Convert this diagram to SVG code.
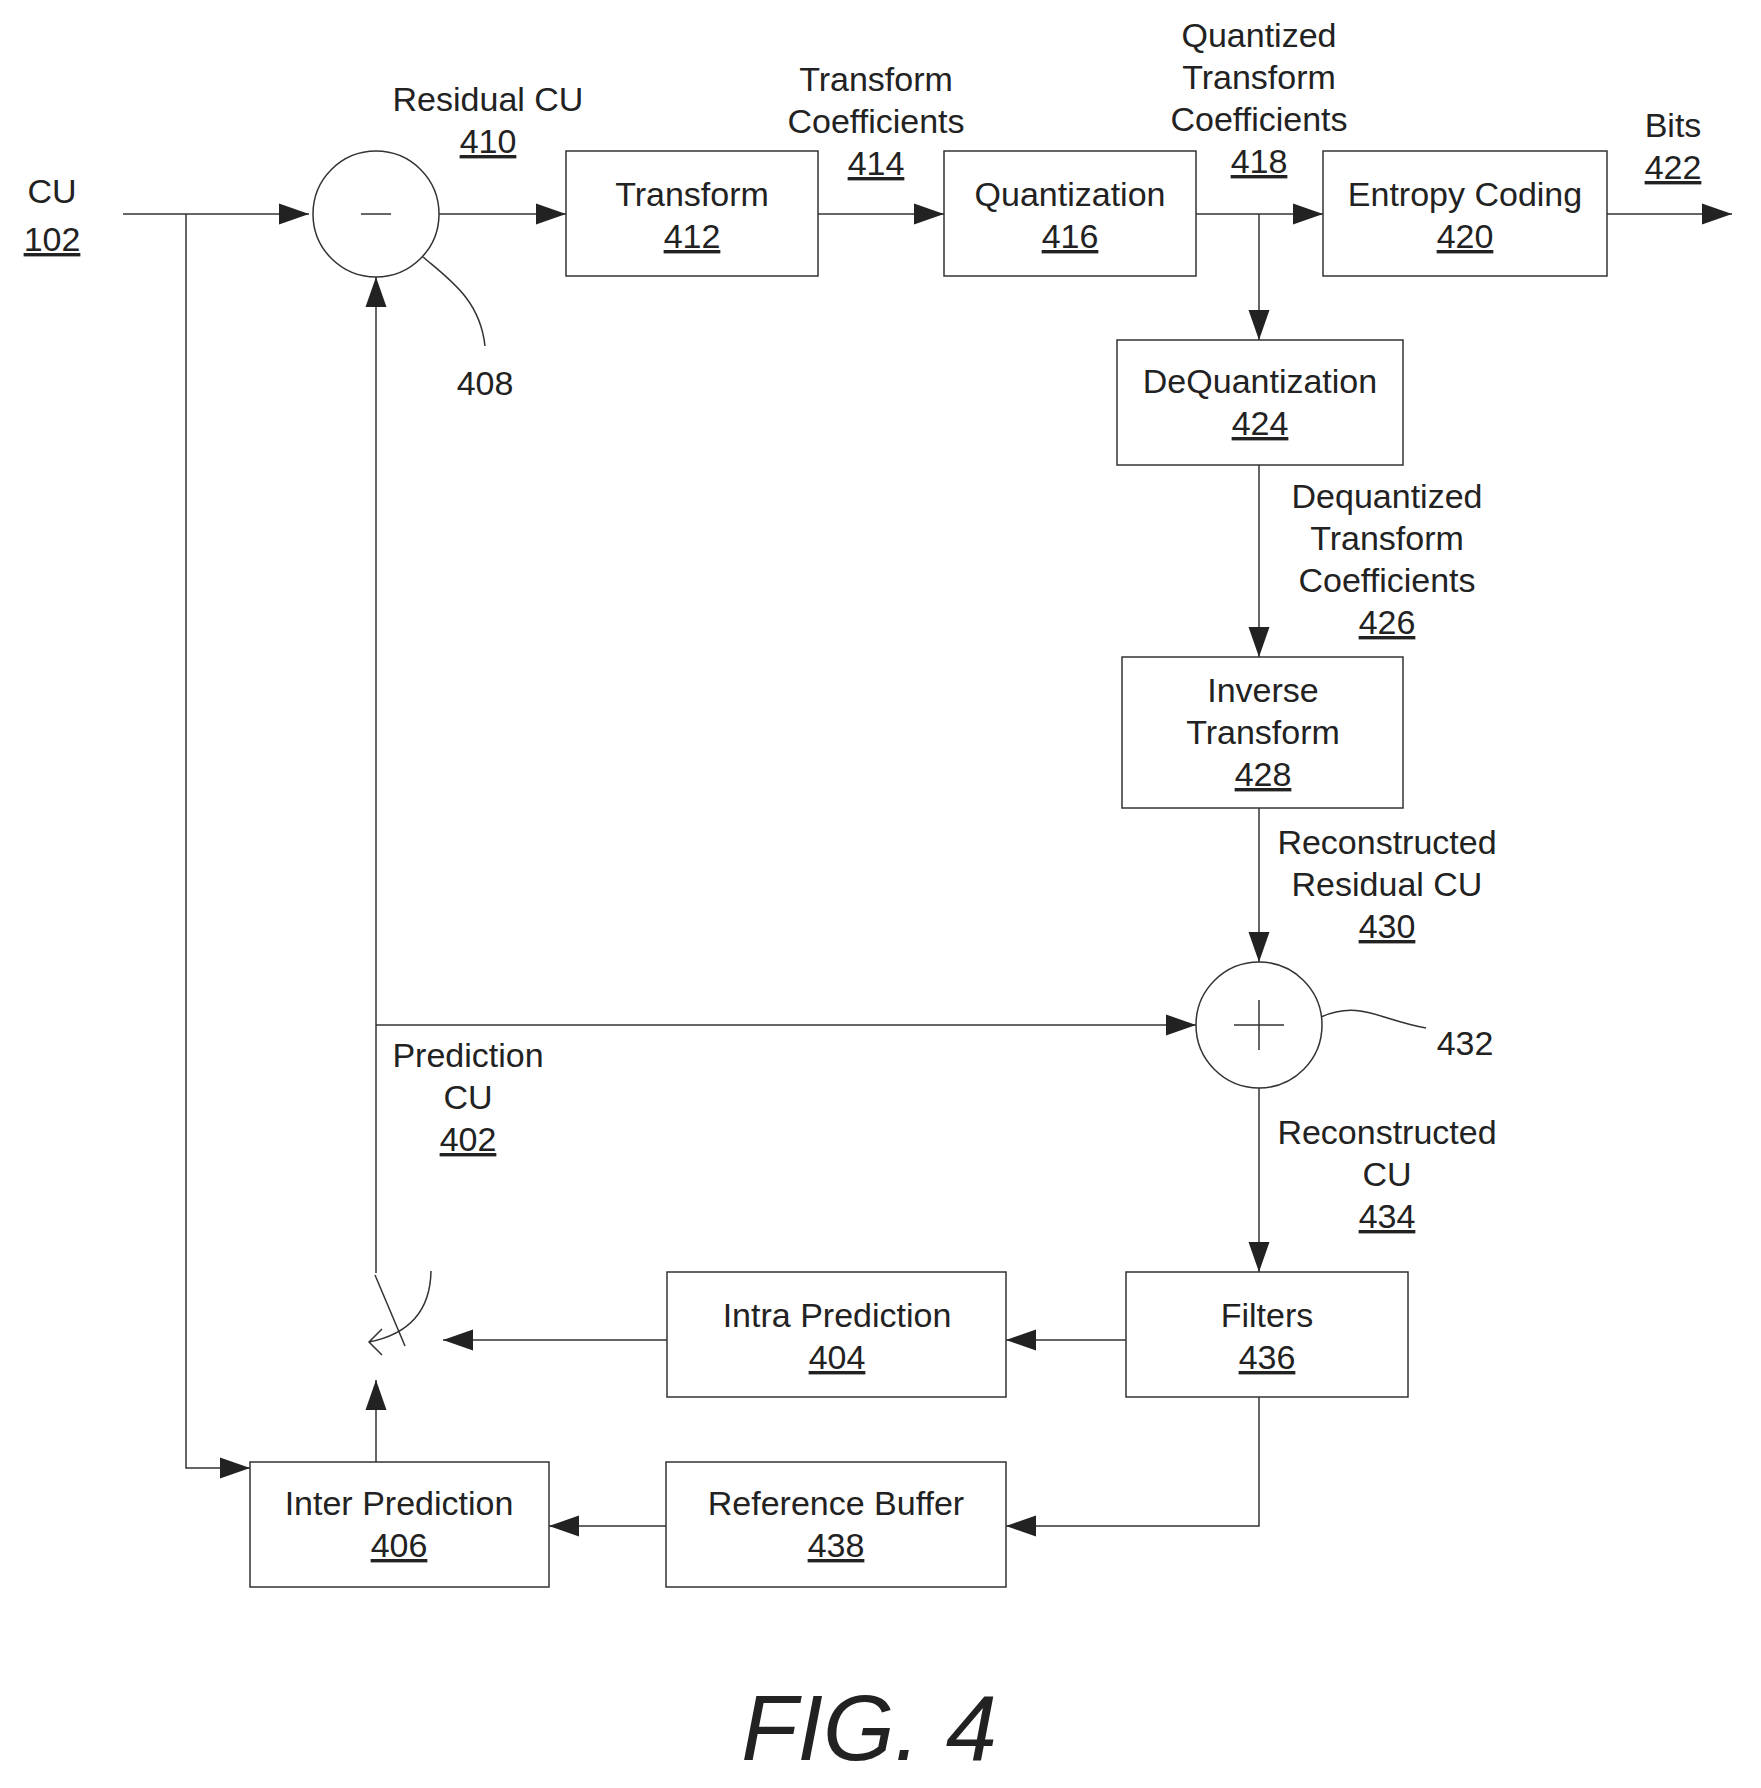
<svg xmlns="http://www.w3.org/2000/svg" width="1761" height="1788" viewBox="0 0 1761 1788">
<style>
text{font-family:"Liberation Sans",Arial,sans-serif;font-size:34px;fill:#222;text-anchor:middle}
.u{text-decoration:underline}
.b{fill:#fff;stroke:#333;stroke-width:1.5}
.l{fill:none;stroke:#333;stroke-width:1.5}
</style>
<defs>
<marker id="a" viewBox="0 0 10 10" refX="10" refY="5" markerWidth="30" markerHeight="30" markerUnits="userSpaceOnUse" orient="auto"><path d="M0,1.5 L10,5 L0,8.5z" fill="#222"/></marker>
</defs>
<g id="connectors">
<path class="l" d="M123,214 H309" marker-end="url(#a)"/>
<path class="l" d="M439,214 H566" marker-end="url(#a)"/>
<path class="l" d="M818,214 H944" marker-end="url(#a)"/>
<path class="l" d="M1196,214 H1323" marker-end="url(#a)"/>
<path class="l" d="M1607,214 H1732" marker-end="url(#a)"/>
<path class="l" d="M1259,214 V340" marker-end="url(#a)"/>
<path class="l" d="M1259,465 V657" marker-end="url(#a)"/>
<path class="l" d="M1259,808 V962" marker-end="url(#a)"/>
<path class="l" d="M1259,1088 V1272" marker-end="url(#a)"/>
<path class="l" d="M376,1273 V277" marker-end="url(#a)"/>
<path class="l" d="M376,1025 H1196" marker-end="url(#a)"/>
<path class="l" d="M186,214 V1468 H250" marker-end="url(#a)"/>
<path class="l" d="M1126,1340 H1006" marker-end="url(#a)"/>
<path class="l" d="M667,1340 H443" marker-end="url(#a)"/>
<path class="l" d="M1259,1397 V1526 H1006" marker-end="url(#a)"/>
<path class="l" d="M666,1526 H549" marker-end="url(#a)"/>
<path class="l" d="M376,1462 V1380" marker-end="url(#a)"/>
<path class="l" d="M375,1275 L405,1346"/>
<path class="l" stroke-width="2" d="M431,1271 Q430,1330 369,1342 M382,1329 L369,1342 L382,1355"/>
<path class="l" d="M423,257 C450,280 480,300 485,346"/>
<path class="l" d="M1321,1017 C1360,1000 1380,1020 1426,1028"/>
</g>
<g id="n408"><circle class="b" cx="376" cy="214" r="63"/><path class="l" d="M361,214 H391"/><text x="485" y="395">408</text></g>
<g id="n432"><circle class="b" cx="1259" cy="1025" r="63"/><path class="l" d="M1234,1025 H1284 M1259,1000 V1050"/><text x="1465" y="1055">432</text></g>
<g id="n412"><rect class="b" x="566" y="151" width="252" height="125"/><text x="692" y="206">Transform</text><text x="692" y="248" class="u">412</text></g>
<g id="n416"><rect class="b" x="944" y="151" width="252" height="125"/><text x="1070" y="206">Quantization</text><text x="1070" y="248" class="u">416</text></g>
<g id="n420"><rect class="b" x="1323" y="151" width="284" height="125"/><text x="1465" y="206">Entropy Coding</text><text x="1465" y="248" class="u">420</text></g>
<g id="n424"><rect class="b" x="1117" y="340" width="286" height="125"/><text x="1260" y="393">DeQuantization</text><text x="1260" y="435" class="u">424</text></g>
<g id="n428"><rect class="b" x="1122" y="657" width="281" height="151"/><text x="1263" y="702">Inverse</text><text x="1263" y="744">Transform</text><text x="1263" y="786" class="u">428</text></g>
<g id="n436"><rect class="b" x="1126" y="1272" width="282" height="125"/><text x="1267" y="1327">Filters</text><text x="1267" y="1369" class="u">436</text></g>
<g id="n404"><rect class="b" x="667" y="1272" width="339" height="125"/><text x="837" y="1327">Intra Prediction</text><text x="837" y="1369" class="u">404</text></g>
<g id="n438"><rect class="b" x="666" y="1462" width="340" height="125"/><text x="836" y="1515">Reference Buffer</text><text x="836" y="1557" class="u">438</text></g>
<g id="n406"><rect class="b" x="250" y="1462" width="299" height="125"/><text x="399" y="1515">Inter Prediction</text><text x="399" y="1557" class="u">406</text></g>
<g id="labels">
<text x="52" y="203">CU</text><text x="52" y="251" class="u">102</text>
<text x="488" y="111">Residual CU</text><text x="488" y="153" class="u">410</text>
<text x="876" y="91">Transform</text><text x="876" y="133">Coefficients</text><text x="876" y="175" class="u">414</text>
<text x="1259" y="47">Quantized</text><text x="1259" y="89">Transform</text><text x="1259" y="131">Coefficients</text><text x="1259" y="173" class="u">418</text>
<text x="1673" y="137">Bits</text><text x="1673" y="179" class="u">422</text>
<text x="1387" y="508">Dequantized</text><text x="1387" y="550">Transform</text><text x="1387" y="592">Coefficients</text><text x="1387" y="634" class="u">426</text>
<text x="1387" y="854">Reconstructed</text><text x="1387" y="896">Residual CU</text><text x="1387" y="938" class="u">430</text>
<text x="1387" y="1144">Reconstructed</text><text x="1387" y="1186">CU</text><text x="1387" y="1228" class="u">434</text>
<text x="468" y="1067">Prediction</text><text x="468" y="1109">CU</text><text x="468" y="1151" class="u">402</text>
<text x="869" y="1760" style="font-size:92px;font-style:italic">FIG. 4</text>
</g>
</svg>
